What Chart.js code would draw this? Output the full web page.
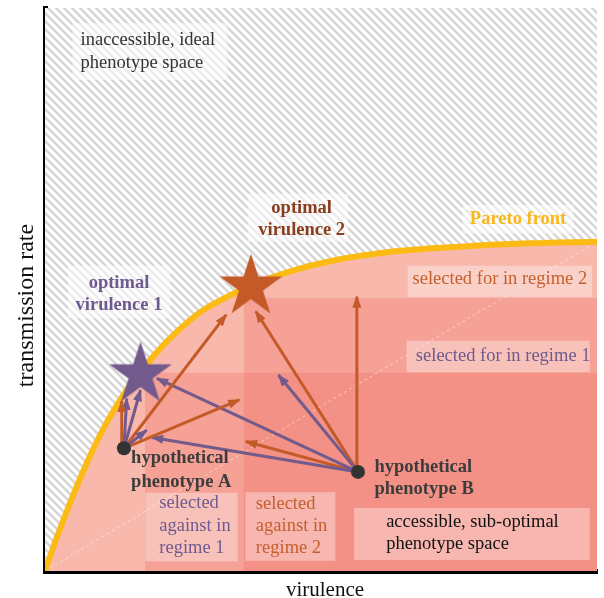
<!DOCTYPE html>
<html><head><meta charset="utf-8">
<script src="https://cdn.jsdelivr.net/npm/chart.js@4/dist/chart.umd.min.js"></script>
<style>html,body{margin:0;padding:0;background:#fff}#wrap{width:604px;height:598px;position:relative}</style>
</head><body><div id="wrap"><canvas id="c"></canvas></div>
<script>
// ---- data ----
const curveX = [0, 2, 5, 7.5, 10, 12.5, 15, 17.3, 20, 24, 28, 33, 38, 44, 52, 62, 75, 88, 100];
const curveY = [0, 5.6, 13.2, 19.0, 24.2, 28.6, 32.4, 35.3, 38.6, 42.6, 45.9, 48.7, 51.0, 53.1, 55.1, 56.6, 57.6, 58.2, 58.5];
const phenotypeNames = ['A', 'B'];
const phenotypeX = [14.3, 56.7];
const phenotypeY = [21.8, 17.6];
const optimumNames = ['optimal virulence 1', 'optimal virulence 2'];
const optimumX = [17.3, 37.3];
const optimumY = [34.9, 50.5];
const regimeBoundX = [18.1, 36.0];
const regimeBoundY = [35.2, 48.5];
const arrowFromX = [13.9, 14.3, 14.3, 14.3, 14.3, 14.3, 56.7, 56.7, 56.7, 56.7, 56.7, 56.5];
const arrowFromY = [21.8, 21.8, 21.8, 21.8, 21.8, 21.8, 17.6, 17.6, 17.6, 17.6, 17.6, 17.6];
const arrowToX   = [13.9, 14.8, 17.3, 18.4, 32.8, 35.2, 20.3, 19.4, 36.4, 42.3, 38.2, 56.5];
const arrowToY   = [30.2, 30.6, 32.1, 25.0, 45.5, 30.4, 34.2, 23.7, 23.0, 34.8, 46.1, 48.7];
const arrowRegime = [2, 1, 1, 1, 2, 2, 1, 1, 2, 1, 2, 2];
const axisTitles = ['virulence', 'transmission rate'];

// ---- styles ----
const ORANGE = '#c45a28', PURPLE = '#725a8c', GOLD = '#fbba14', DARK = '#333333';
const FONT = '"Liberation Serif", "Times New Roman", serif';

function makeHatch() {
  const s = 8, c = document.createElement('canvas'); c.width = s; c.height = s;
  const g = c.getContext('2d');
  g.fillStyle = '#ffffff'; g.fillRect(0, 0, s, s);
  g.strokeStyle = '#d6d6d6'; g.lineWidth = 2.6;
  g.beginPath();
  g.moveTo(-s, -s); g.lineTo(2 * s, 2 * s);
  g.moveTo(-s, 0); g.lineTo(s, 2 * s);
  g.moveTo(0, -s); g.lineTo(2 * s, s);
  g.stroke();
  return g.createPattern(c, 'repeat');
}
function makeStar(color, R) {
  const size = Math.ceil(2 * R + 4), c = document.createElement('canvas');
  c.width = size; c.height = size;
  const g = c.getContext('2d'), cx = size / 2, cy = size / 2, r = R * 0.382;
  g.beginPath();
  for (let i = 0; i < 10; i++) {
    const a = -Math.PI / 2 + i * Math.PI / 5, rr = i % 2 ? r : R;
    g.lineTo(cx + rr * Math.cos(a), cy + rr * Math.sin(a));
  }
  g.closePath(); g.fillStyle = color; g.fill();
  return c;
}

const curve = curveX.map((x, i) => ({x, y: curveY[i]}));
const datasets = [];
datasets.push({label: 'inaccessible', data: curve, showLine: true, fill: 'end', backgroundColor: makeHatch(),
  borderWidth: 0, pointRadius: 0, cubicInterpolationMode: 'monotone', order: 20});
datasets.push({label: 'accessible', data: curve, showLine: true, fill: 'origin', backgroundColor: '#f8b8ac',
  borderWidth: 0, pointRadius: 0, cubicInterpolationMode: 'monotone', order: 19});
regimeBoundX.forEach((bx, i) => {
  datasets.push({label: 'regime ' + (i + 1) + ' against', data: [{x: bx, y: regimeBoundY[i]}, {x: 100, y: regimeBoundY[i]}],
    showLine: true, fill: 'origin', backgroundColor: 'rgba(238,108,98,0.3)', borderWidth: 0, pointRadius: 0, order: 18 - i});
});
datasets.push({label: 'diagonal', data: [{x: 0, y: 0}, {x: curveX[curveX.length - 1], y: curveY[curveY.length - 1]}],
  showLine: true, fill: false, borderColor: 'rgba(255,255,255,0.5)', borderWidth: 1, borderDash: [3, 3], pointRadius: 0, order: 15});
datasets.push({label: 'Pareto front', data: curve, showLine: true, fill: false, borderColor: GOLD, borderWidth: 6,
  pointRadius: 0, cubicInterpolationMode: 'monotone', order: 14});
arrowFromX.forEach((fx, i) => {
  const col = arrowRegime[i] === 1 ? PURPLE : ORANGE;
  datasets.push({label: 'arrow', arrow: true, data: [{x: fx, y: arrowFromY[i]}, {x: arrowToX[i], y: arrowToY[i]}],
    showLine: true, fill: false, borderColor: col, borderWidth: 3, pointRadius: 0, order: 10});
});
optimumX.forEach((ox, i) => {
  datasets.push({label: optimumNames[i], data: [{x: ox, y: optimumY[i]}], pointStyle: makeStar(i === 0 ? PURPLE : ORANGE, 33),
    showLine: false, order: 3});
});
datasets.push({label: 'phenotypes', data: phenotypeX.map((x, i) => ({x, y: phenotypeY[i]})), pointRadius: 7,
  pointBackgroundColor: DARK, pointBorderWidth: 0, showLine: false, order: 1});

// ---- text annotations (data units) ----
const labels = [
  {lines: ['inaccessible, ideal', 'phenotype space'], x: 6.44, ys: [94.3, 90.2], align: 'left', color: '#333', bold: false,
   box: [5.0, 33.0, 97.3, 87.2], boxColor: 'rgba(255,255,255,0.55)'},
  {lines: ['optimal', 'virulence 2'], x: 46.5, ys: [64.5, 60.6], align: 'center', color: '#8a3d1e', bold: true,
   box: [36.7, 54.9, 67.0, 58.4], boxColor: 'rgba(255,255,255,0.55)'},
  {lines: ['Pareto front'], x: 85.7, ys: [62.5], align: 'center', color: '#f8b71a', bold: true,
   box: [75.7, 95.7, 65.0, 59.9], boxColor: 'rgba(255,255,255,0.55)'},
  {lines: ['optimal', 'virulence 1'], x: 13.4, ys: [51.2, 47.2], align: 'center', color: '#6e5a8f', bold: true,
   box: [4.1, 22.7, 54.2, 44.9], boxColor: 'rgba(255,255,255,0.55)'},
  {lines: ['hypothetical', 'phenotype A'], x: 15.6, ys: [20.0, 15.7], align: 'left', color: '#3c3c3c', bold: true},
  {lines: ['hypothetical', 'phenotype B'], x: 59.7, ys: [18.5, 14.6], align: 'left', color: '#3c3c3c', bold: true},
  {lines: ['selected for in regime 2'], x: 82.4, ys: [51.8], align: 'center', color: '#c45f2d', bold: false,
   box: [65.7, 99.1, 54.2, 48.7], boxColor: 'rgba(255,255,255,0.35)'},
  {lines: ['selected for in regime 1'], x: 83.0, ys: [38.2], align: 'center', color: '#6e5a8f', bold: false,
   box: [65.5, 98.7, 40.9, 35.3], boxColor: 'rgba(255,255,255,0.35)'},
  {lines: ['selected', 'against in', 'regime 1'], x: 20.7, ys: [12.0, 7.9, 4.0], align: 'left', color: '#6e5a8f', bold: false,
   box: [18.2, 34.9, 13.9, 1.7], boxColor: 'rgba(255,255,255,0.35)'},
  {lines: ['selected', 'against in', 'regime 2'], x: 38.2, ys: [11.9, 7.9, 4.0], align: 'left', color: '#c45f2d', bold: false,
   box: [36.3, 52.6, 14.0, 1.8], boxColor: 'rgba(255,255,255,0.35)'},
  {lines: ['accessible, sub-optimal', 'phenotype space'], x: 61.8, ys: [8.76, 4.8], align: 'left', color: '#111', bold: false,
   box: [56.0, 98.7, 11.2, 1.95], boxColor: 'rgba(255,255,255,0.35)'}
];

const arrowPlugin = {
  id: 'arrowheads',
  afterDatasetDraw(chart, args) {
    const ds = chart.data.datasets[args.index];
    if (!ds.arrow) return;
    const p0 = args.meta.data[0], p1 = args.meta.data[1];
    const a = Math.atan2(p1.y - p0.y, p1.x - p0.x), L = 11, W = 4.5;
    const ctx = chart.ctx;
    ctx.save();
    ctx.fillStyle = ds.borderColor;
    ctx.beginPath();
    ctx.moveTo(p1.x + 1.5 * Math.cos(a), p1.y + 1.5 * Math.sin(a));
    ctx.lineTo(p1.x - L * Math.cos(a) + W * Math.sin(a), p1.y - L * Math.sin(a) - W * Math.cos(a));
    ctx.lineTo(p1.x - L * Math.cos(a) - W * Math.sin(a), p1.y - L * Math.sin(a) + W * Math.cos(a));
    ctx.closePath(); ctx.fill();
    ctx.restore();
  }
};
const labelPlugin = {
  id: 'labels',
  afterDatasetsDraw(chart) {
    const {ctx, scales: {x, y}} = chart;
    ctx.save();
    for (const L of labels) {
      if (L.box) {
        const x0 = x.getPixelForValue(L.box[0]), x1 = x.getPixelForValue(L.box[1]);
        const y0 = y.getPixelForValue(L.box[2]), y1 = y.getPixelForValue(L.box[3]);
        ctx.fillStyle = L.boxColor; ctx.fillRect(x0, y0, x1 - x0, y1 - y0);
      }
      ctx.font = (L.bold ? 'bold ' : '') + '18.5px ' + FONT;
      ctx.fillStyle = L.color; ctx.textAlign = L.align; ctx.textBaseline = 'middle';
      L.lines.forEach((t, i) => ctx.fillText(t, x.getPixelForValue(L.x), y.getPixelForValue(L.ys[i])));
    }
    ctx.restore();
  },
  afterDraw(chart) {
    // axis titles
    const {ctx, chartArea} = chart;
    ctx.save();
    ctx.fillStyle = '#111'; ctx.textAlign = 'center'; ctx.textBaseline = 'alphabetic';
    ctx.font = '21px ' + FONT;
    ctx.fillText(axisTitles[0], (chartArea.left + chartArea.right) / 2 + 4, chart.height - 2);
    ctx.font = '24px ' + FONT;
    ctx.translate(33, (chartArea.top + chartArea.bottom) / 2 + 16);
    ctx.rotate(-Math.PI / 2);
    ctx.fillText(axisTitles[1], 0, 0);
    ctx.restore();
  }
};

new Chart(document.getElementById('c'), {
  type: 'scatter',
  data: {datasets},
  plugins: [arrowPlugin, labelPlugin],
  options: {
    responsive: true, maintainAspectRatio: false, animation: false,
    layout: {padding: {top: 8, right: 0, left: 0, bottom: 0}},
    plugins: {legend: {display: false}, tooltip: {enabled: false}},
    scales: {
      x: {type: 'linear', min: 0, max: 100, grid: {display: false, drawTicks: false}, ticks: {display: false},
        border: {display: true, color: '#000', width: 5}, title: {display: false},
        afterFit(s) { s.height = 27; }},
      y: {type: 'linear', min: 0, max: 100, grid: {display: false, drawTicks: false}, ticks: {display: false},
        border: {display: true, color: '#000', width: 5}, title: {display: false},
        afterFit(s) { s.width = 45; }}
    }
  }
});
</script>
</body></html>
